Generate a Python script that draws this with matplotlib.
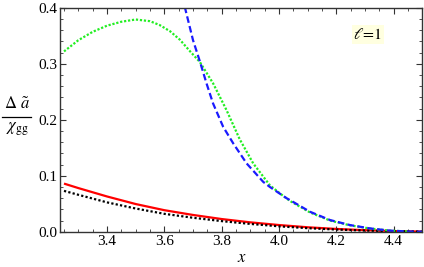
import matplotlib.pyplot as plt
import numpy as np
from matplotlib.ticker import MultipleLocator

plt.rcParams['font.family'] = 'Liberation Serif'
plt.rcParams['mathtext.fontset'] = 'stix'

# values
x_green = [3.25, 3.30, 3.35, 3.40, 3.45, 3.50, 3.55, 3.584, 3.62, 3.654, 3.69, 3.724, 3.770, 3.817,
           3.863, 3.910, 3.968, 4.003, 4.038, 4.108, 4.178, 4.247, 4.317, 4.387, 4.45]
y_green = [0.322, 0.342, 0.357, 0.368, 0.375, 0.379, 0.376, 0.369, 0.358, 0.343, 0.322, 0.303, 0.265, 0.217,
           0.165, 0.122, 0.083, 0.0686, 0.0550, 0.0345, 0.0200, 0.0115, 0.0058, 0.002, 0.0005]

x_blue = [3.671, 3.700, 3.724, 3.747, 3.770, 3.805, 3.840, 3.887, 3.945, 3.968, 4.026, 4.038,
          4.108, 4.178, 4.247, 4.317, 4.387, 4.45, 4.50]
y_blue = [0.402, 0.342, 0.304, 0.265, 0.229, 0.1875, 0.158, 0.122, 0.089, 0.080, 0.060, 0.0566,
          0.0357, 0.0209, 0.012, 0.006, 0.002, 0.0005, 0.0]

x_red = [3.25, 3.30, 3.40, 3.50, 3.60, 3.70, 3.80, 3.90, 4.00, 4.10, 4.20, 4.30, 4.40, 4.50]
y_red = [0.086, 0.078, 0.063, 0.0495, 0.0385, 0.030, 0.0227, 0.0168, 0.012, 0.008, 0.005, 0.0028, 0.0012, 0.0003]

x_black = [3.25, 3.30, 3.40, 3.50, 3.60, 3.70, 3.80, 3.90, 4.00, 4.10, 4.20, 4.30, 4.40, 4.50]
y_black = [0.073, 0.066, 0.0525, 0.0415, 0.032, 0.025, 0.019, 0.014, 0.0097, 0.0064, 0.0039, 0.0021, 0.001, 0.0003]

fig = plt.figure(figsize=(4.24, 2.67), dpi=100)
ax = fig.add_axes([0.1415, 0.132, 0.853, 0.839])

ax.plot(x_red, y_red, color='red', lw=1.6, solid_capstyle='butt')
ax.plot(x_black, y_black, color='black', lw=1.6, linestyle=(0, (1, 1)))
ax.plot(x_green, y_green, color='#22ee22', lw=1.6, linestyle=(0, (1, 0.8)))
ax.plot(x_blue, y_blue, color='#1a1aff', lw=1.6, linestyle=(0, (3, 1.5)))

ax.set_xlim(3.236, 4.4975)
ax.set_ylim(0, 0.4)
ax.xaxis.set_minor_locator(MultipleLocator(0.05))
ax.yaxis.set_minor_locator(MultipleLocator(0.02))
ax.set_xticks([3.4, 3.6, 3.8, 4.0, 4.2, 4.4])
ax.set_xticklabels(['3.4', '3.6', '3.8', '4.0', '4.2', '4.4'])
ax.set_yticks([0.0, 0.1, 0.2, 0.3, 0.4])
ax.set_yticklabels(['0.0', '0.1', '0.2', '0.3', '0.4'])
ax.tick_params(which='both', direction='in', top=True, right=True, labelsize=11,
               color='#333333', pad=2)
ax.tick_params(which='major', length=4, width=0.8)
ax.tick_params(which='minor', length=2, width=0.6)
for s in ax.spines.values():
    s.set_color('#333333')
    s.set_linewidth(1.0)

fig.text(0.571, 0.032, '$x$', fontsize=12, ha='center', va='center')

fig.text(0.040, 0.578, r'$\Delta\ \tilde{a}$', fontsize=12, ha='center', va='bottom')
fig.text(0.040, 0.548, r'$\chi_{\rm gg}$', fontsize=12, ha='center', va='top')
fig.add_artist(plt.Line2D([0.005, 0.074], [0.563, 0.563], color='black', lw=0.9))

ax.text(4.31, 0.352, r'$\ell\!=\!1$', fontsize=11.5, ha='center', va='center',
        bbox=dict(boxstyle='square,pad=0.08', facecolor='#ffffe0', edgecolor='none'))

fig.savefig('out.png', dpi=100)
